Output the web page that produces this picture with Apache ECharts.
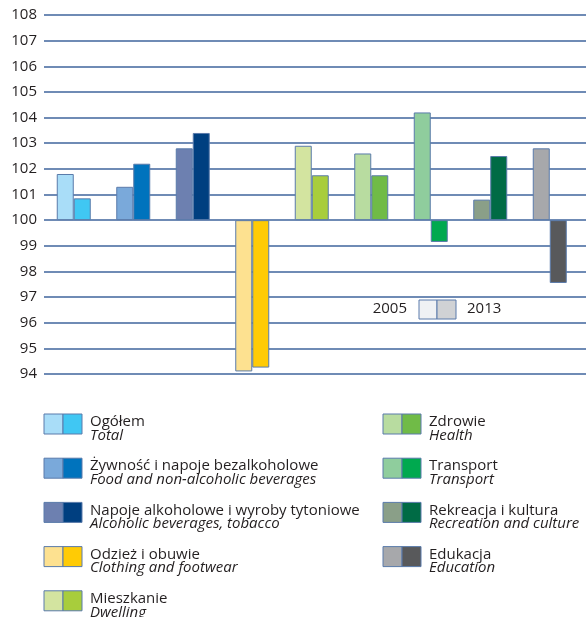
<!DOCTYPE html>
<html>
<head>
<meta charset="utf-8">
<script src="https://cdn.jsdelivr.net/npm/echarts@6/dist/echarts.min.js"></script>
<style>
  html, body { margin: 0; padding: 0; background: #fff; }
  #chart { width: 586px; height: 617px; }
</style>
</head>
<body>
<div id="chart"></div>
<script>
// dane: indeksy cen 2005 i 2013 (rok poprzedni = 100)
const categories = [
  'Ogółem', 'Żywność i napoje bezalkoholowe', 'Napoje alkoholowe i wyroby tytoniowe',
  'Odzież i obuwie', 'Mieszkanie', 'Zdrowie', 'Transport', 'Rekreacja i kultura', 'Edukacja'
]
const categoriesEn = [
  'Total', 'Food and non-alcoholic beverages', 'Alcoholic beverages, tobacco',
  'Clothing and footwear', 'Dwelling', 'Health', 'Transport', 'Recreation and culture', 'Education'
]
const values2005 = [101.8, 101.3, 102.8, 94.1, 102.9, 102.6, 104.2, 100.8, 102.8]
const values2013 = [100.85, 102.2, 103.4, 94.25, 101.75, 101.75, 99.15, 102.5, 97.55]
const colors2005 = ['#a9ddf8', '#7aa9da', '#6d80b0', '#fde190', '#d3e4a0', '#b8dca0', '#8fcd9d', '#8a9f88', '#a7a8ab']
const colors2013 = ['#40c7f3', '#0073bd', '#003f80', '#ffcb05', '#a8cd3c', '#70bb47', '#00a94f', '#006b45', '#58595b']
const base = 100
const yMin = 94
const yMax = 108

const mychart = echarts.init(document.getElementById('chart'))

const gridColor = '#3f659c'
const font = '"Open Sans", sans-serif'

function toItems(values, colors) {
  return values.map((v, i) => ({
    value: +(v - base).toFixed(2),
    itemStyle: { color: colors[i] }
  }))
}

// legenda rysowana ręcznie (dwukolorowe kwadraty)
const legend = []
categories.forEach((name, i) => {
  const col = i < 5 ? 0 : 1
  const row = i < 5 ? i : i - 5
  const x = col === 0 ? 44 : 383
  const y = 414 + row * 44.2
  legend.push(
    { type: 'rect', shape: { x: x, y: y, width: 19, height: 20 },
      style: { fill: colors2005[i], stroke: '#5a7bab', lineWidth: 1 } },
    { type: 'rect', shape: { x: x + 19, y: y, width: 19, height: 20 },
      style: { fill: colors2013[i], stroke: '#5a7bab', lineWidth: 1 } },
    { type: 'text', x: x + 46, y: y + 8,
      style: { text: name, fill: '#231f20', font: '15px ' + font, verticalAlign: 'middle' } },
    { type: 'text', x: x + 46, y: y + 21.5,
      style: { text: categoriesEn[i], fill: '#231f20', font: 'italic 15px ' + font, verticalAlign: 'middle' } }
  )
})
// mała legenda lat
legend.push(
  { type: 'text', x: 407, y: 309,
    style: { text: '2005', fill: '#231f20', font: '15px ' + font, align: 'right', verticalAlign: 'middle' } },
  { type: 'rect', shape: { x: 419, y: 300, width: 18, height: 19 },
    style: { fill: '#eff1f4', stroke: '#5a7bab', lineWidth: 1 } },
  { type: 'rect', shape: { x: 437, y: 300, width: 19, height: 19 },
    style: { fill: '#d0d2d5', stroke: '#5a7bab', lineWidth: 1 } },
  { type: 'text', x: 467, y: 309,
    style: { text: '2013', fill: '#231f20', font: '15px ' + font, verticalAlign: 'middle' } }
)

mychart.setOption({
  animation: false,
  grid: [
    { left: 44, right: 6.5, top: 15, bottom: 243 },
    { left: 44, right: 0, top: 15, bottom: 243 }
  ],
  xAxis: [
    { gridIndex: 0, type: 'category', data: categories, show: false },
    { gridIndex: 1, type: 'category', data: categories, show: false }
  ],
  yAxis: [
    {
      gridIndex: 0, type: 'value', min: yMin - base, max: yMax - base, interval: 1,
      axisLine: { show: false }, axisTick: { show: false }, axisLabel: { show: false },
      splitLine: { show: false }
    },
    {
      gridIndex: 1, type: 'value', min: yMin - base, max: yMax - base, interval: 1,
      axisLine: { show: false }, axisTick: { show: false },
      axisLabel: {
        formatter: v => String(v + base),
        color: '#231f20', fontSize: 15, fontFamily: font, margin: 7
      },
      splitLine: { show: true, lineStyle: { color: gridColor, width: 1.5 } }
    }
  ],
  series: [
    {
      name: '2005', type: 'bar', xAxisIndex: 0, yAxisIndex: 0,
      barWidth: 17, barGap: '0%',
      itemStyle: { borderColor: '#5a7bab', borderWidth: 1 },
      data: toItems(values2005, colors2005)
    },
    {
      name: '2013', type: 'bar', xAxisIndex: 0, yAxisIndex: 0,
      barWidth: 17, barGap: '0%',
      itemStyle: { borderColor: '#5a7bab', borderWidth: 1 },
      data: toItems(values2013, colors2013)
    }
  ],
  graphic: legend
})
</script>
</body>
</html>
